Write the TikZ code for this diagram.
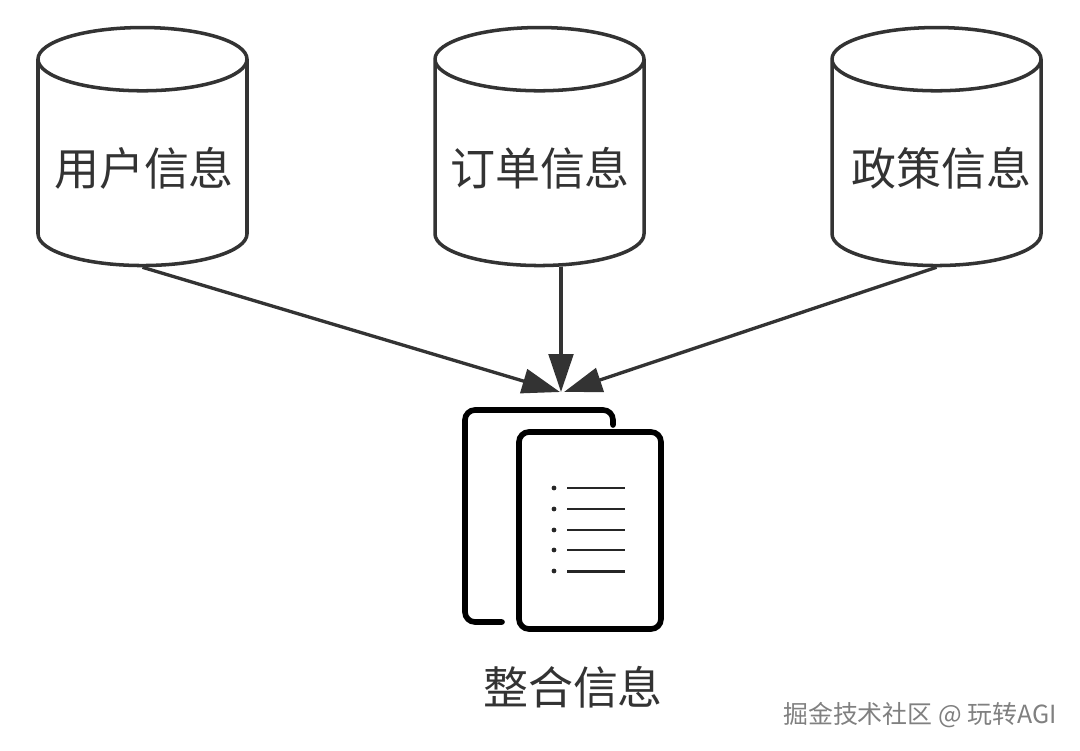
\documentclass[tikz,border=0pt]{standalone}
\usepackage{xcolor}
\usepackage{fontspec}
\setmainfont{Noto Sans CJK SC}
\usetikzlibrary{shapes.geometric, arrows.meta, positioning}
\definecolor{inkgrey}{HTML}{333333}
\begin{document}
\begin{tikzpicture}[
    store/.style={cylinder, shape border rotate=90, draw=inkgrey, line width=1pt, aspect=2.7, minimum width=2.09cm, minimum height=2.38cm},
    storetext/.style={text=inkgrey, font=\fontsize{12.8}{14}\selectfont, inner sep=0pt},
    arrow/.style={-{Triangle[length=10.8pt, width=7pt]}, draw=inkgrey, line width=0.95pt},
    sheet/.style={draw=black, line width=1.6pt, rounded corners=0.1cm, line cap=round},
    row/.style={draw=black!85, line width=0.85pt}
]
    % Canvas
    \useasboundingbox (0,0) rectangle (10.8,7.5);

    % Data stores
    \node[store] (user) at (1.425,5.795) {};
    \node[store] (order) at (5.395,5.795) {};
    \node[store] (policy) at (9.365,5.795) {};
    \node[storetext] (usertext) at (1.44,5.82) {用户信息};
    \node[storetext] (ordertext) at (5.40,5.82) {订单信息};
    \node[storetext] (policytext) at (9.41,5.82) {政策信息};

    % Merged document
    \draw[sheet] (6.13,3.25) |- (4.65,3.40) |- (5.02,1.28);
    \node[sheet, minimum width=1.42cm, minimum height=1.97cm, inner sep=0pt] (merged) at (5.90,2.195) {};
    \foreach \y in {2.62,2.41,2.20,2.00,1.79} {
        \fill[black!85] (5.54,\y) circle (0.024);
        \draw[row] (5.67,\y) -- (6.25,\y);
    }
    \node[storetext] (mergedtext) at (5.73,0.63) {整合信息};

    % Hub points
    \coordinate (hubl) at (5.60,3.58);
    \coordinate (hub) at (5.61,3.58);
    \coordinate (hubr) at (5.64,3.58);

    % Connections
    \draw[arrow] (user.south) -- (hubl);
    \draw[arrow] (order.south -| hub) -- (hub);
    \draw[arrow] (policy.south) -- (hubr);

    % Watermark
    \node[text=black!50, font=\fontsize{7.1}{9}\selectfont, inner sep=0pt] (mark) at (9.20,0.35) {掘金技术社区 @ 玩转AGI};
\end{tikzpicture}
\end{document}
